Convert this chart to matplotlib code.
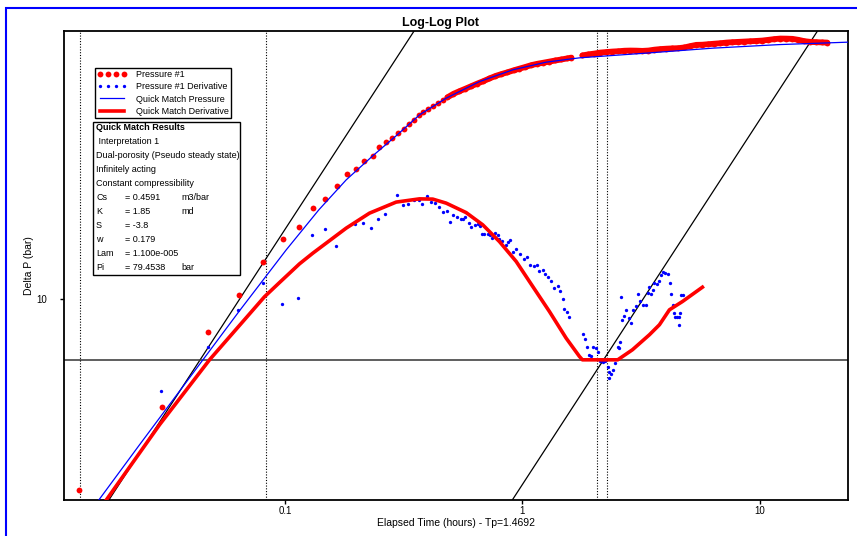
import matplotlib
matplotlib.use("Agg")
import matplotlib.pyplot as plt
from matplotlib.patches import Rectangle
from matplotlib.ticker import NullLocator

plt.rcParams['font.family'] = ['Liberation Sans', 'DejaVu Sans']

# Measured pressure change (bar) vs elapsed time (hours)
press_t = [0.01355, 0.0302, 0.0475, 0.0641, 0.0806, 0.098, 0.1148, 0.131, 0.148,
           0.165, 0.182, 0.1995, 0.216, 0.234, 0.248, 0.265, 0.283, 0.2985, 0.316,
           0.334, 0.351, 0.366, 0.383, 0.401, 0.419, 0.440, 0.462,
           0.483, 0.512, 0.543, 0.575, 0.610, 0.646, 0.685, 0.726, 0.770, 0.816,
           0.865, 0.917, 0.971, 1.030, 1.091, 1.157, 1.226, 1.299, 1.377, 1.459,
           1.547, 1.608,
           1.789, 1.896, 2.010, 2.130, 2.258, 2.393, 2.536, 2.689, 2.850, 3.020,
           3.201, 3.393, 3.596, 3.812, 4.040, 4.281, 4.538, 4.810, 5.098, 5.403,
           5.727, 6.070, 6.434, 6.819, 7.227, 7.660, 8.120, 8.606, 9.120, 9.667,
           10.24, 10.86, 11.51, 12.2, 12.93, 13.71, 14.53, 15.4, 16.32, 17.3,
           18.33, 19.24]
press_p = [2.985, 5.06, 8.09, 10.26, 12.6, 14.57, 15.74, 17.74, 18.8,
           20.4, 22.0, 22.75, 23.9, 24.7, 26.1, 26.9, 27.6, 28.5, 29.2,
           30.1, 30.9, 31.8, 32.6, 33.2, 33.8, 34.5, 35.1,
           35.65, 36.45, 37.07, 37.65, 38.28, 38.9, 39.5, 40.16, 40.8, 41.3,
           41.76, 42.27, 42.73, 43.2, 43.7, 44.07, 44.37, 44.68, 45.0, 45.28,
           45.6, 45.82,
           46.46, 46.76, 47.0, 47.3, 47.45, 47.6, 47.7, 47.85, 47.9, 47.87,
           47.8, 47.9, 48.17, 48.35, 48.47, 48.56, 48.63, 48.85, 49.28, 49.65,
           49.7, 49.86, 50.02, 50.17, 50.37, 50.5, 50.6, 50.7, 50.8, 50.9,
           51.02, 51.25, 51.5, 51.67, 51.64, 51.57, 51.25, 50.82, 50.6, 50.5,
           50.43, 50.37]

# Pressure derivative (bar)
deriv_t = [0.030, 0.0472, 0.0635, 0.0804, 0.0969, 0.1137, 0.1302, 0.1467, 0.1637,
           0.1968, 0.2135, 0.2313, 0.2459, 0.2631, 0.2956, 0.3133, 0.3311, 0.3485,
           0.3660, 0.3793, 0.3981, 0.4139, 0.4303, 0.4472, 0.4618, 0.4801, 0.4961,
           0.5122, 0.5311, 0.5484, 0.5645, 0.5754, 0.5941, 0.6099, 0.6297, 0.6527,
           0.6654, 0.6764, 0.6918, 0.7143, 0.7333, 0.7456, 0.7646, 0.7922, 0.80,
           0.8215, 0.8540, 0.8672, 0.8903, 0.9165, 0.9408, 0.978, 1.020, 1.043,
           1.078, 1.120, 1.153, 1.179, 1.217, 1.246, 1.283, 1.321, 1.364, 1.408,
           1.445, 1.478, 1.503, 1.537, 1.578,
           1.807, 1.837, 1.865, 1.902, 1.947, 1.990, 2.043, 2.075, 2.124, 2.178,
           2.236, 2.287, 2.324, 2.363, 2.324, 2.400, 2.464, 2.519, 2.561, 2.578,
           2.603, 2.630, 2.689, 2.734, 2.803, 2.869, 2.914, 3.011, 3.058, 3.130,
           3.210, 3.318, 3.370, 3.425, 3.483, 3.537, 3.596, 3.677, 3.775, 3.837,
           3.897, 4.000, 4.091, 4.200, 4.241, 4.294, 4.336, 4.408, 4.481, 4.551,
           4.582, 4.627, 4.658, 4.732]
deriv_p = [5.6, 7.40, 9.31, 11.04, 9.65, 10.06, 14.97, 15.52, 13.95,
           16.02, 16.18, 15.68, 16.54, 17.13, 19.31, 18.06, 18.21, 18.64,
           18.64, 18.21, 19.19, 18.41, 18.33, 17.83, 17.28, 17.39, 16.26,
           16.96, 16.78, 16.57, 16.57, 16.71, 16.12, 15.75, 15.92, 16.05,
           15.85, 15.07, 15.07, 15.04, 14.95, 14.69, 15.14, 14.95, 14.57,
           14.41, 14.08, 14.35, 14.45, 13.42, 13.68, 13.28, 12.85, 13.01,
           12.40, 12.31, 12.40, 11.91, 12.01, 11.71, 11.47, 11.2, 10.7, 10.85,
           10.5, 10.0, 9.37, 9.23, 8.89,
           8.0, 7.76, 7.38, 7.03, 6.95, 7.40, 7.31, 7.13, 6.76, 6.72,
           6.75, 6.52, 6.30, 6.23, 6.06, 6.39, 6.66, 7.40, 7.33, 7.62,
           10.11, 8.74, 8.98, 9.33, 8.86, 8.56, 9.29, 9.57, 10.32, 9.89,
           9.63, 9.59, 10.36, 10.76, 10.34, 10.58, 11.04, 10.99, 11.22, 11.63,
           11.86, 11.76, 11.71, 11.04, 10.30, 9.63, 9.17, 8.89, 8.89, 8.89,
           8.49, 9.17, 10.26, 10.26]

# Quick match model pressure
model_t = [0.01644, 0.02439, 0.0396, 0.0643, 0.1012, 0.1388, 0.181, 0.2343, 0.2938,
           0.3684, 0.4773, 0.659, 0.910, 1.258, 1.738, 3.318, 6.327, 12.08, 23.35]
model_p = [2.81, 3.98, 6.075, 9.27, 13.62, 17.53, 21.18, 24.66, 27.97,
           31.92, 35.47, 39.38, 42.41, 44.52, 45.75, 47.13, 48.63, 49.74, 50.5]

# Quick match model derivative
model_dt = [0.01767, 0.02962, 0.04809, 0.08195, 0.0948, 0.1151, 0.131, 0.181, 0.2269,
            0.2938, 0.3684, 0.4191, 0.4773, 0.5793, 0.6805, 0.80, 0.9408, 1.105,
            1.299, 1.528, 1.738, 1.789, 2.519, 2.905, 3.425, 3.775, 4.159, 4.718,
            5.727]
model_dp = [2.81, 4.517, 6.805, 10.13, 11.08, 12.47, 13.34, 15.62, 17.17,
            18.41, 18.79, 18.76, 18.29, 17.23, 15.95, 14.35, 12.66, 10.81,
            9.23, 7.80, 6.95, 6.805, 6.805, 7.25, 7.97, 8.49, 9.33, 9.83,
            10.76]

# Unit slope lines (wellbore storage and late time) and markers
wbs_t = [0.01, 0.5]
wbs_p = [1.55, 77.5]
late_t = [0.5, 30.0]
late_p = [1.55, 93.0]
stab_level = 6.81
vlines_t = [0.0137, 0.0828, 2.07, 2.28]

# Quick match results
results_title = "Quick Match Results"
results_lines = [" Interpretation 1", "Dual-porosity (Pseudo steady state)",
                 "Infinitely acting", "Constant compressibility"]
param_names = ["Cs", "K", "S", "w", "Lam", "Pi"]
param_values = ["= 0.4591", "= 1.85", "= -3.8", "= 0.179", "= 1.100e-005", "= 79.4538"]
param_units = ["m3/bar", "md", "", "", "", "bar"]

fig = plt.figure(figsize=(8.57, 5.36), dpi=100)
ax = fig.add_axes([0.0747, 0.0672, 0.9148, 0.875])

ax.plot(press_t, press_p, 'o', color='#ff0000', ms=4.2, mec='none',
        label='Pressure #1', zorder=2)
# dense recordings merge into a continuous band
for a, b in [(27, 49), (49, len(press_t))]:
    ax.plot(press_t[a:b], press_p[a:b], '-', color='#ff0000', lw=4.2,
            solid_capstyle='round', zorder=2)
ax.plot(deriv_t, deriv_p, 'o', color='#0000ff', ms=2.4, mec='none',
        label='Pressure #1 Derivative', zorder=2)
ax.plot(model_t, model_p, '-', color='#0000ff', lw=0.9,
        label='Quick Match Pressure', zorder=4)
ax.plot(model_dt, model_dp, '-', color='#ff0000', lw=2.6,
        label='Quick Match Derivative', zorder=3)

ax.plot(wbs_t, wbs_p, '-', color='black', lw=0.9, zorder=1)
ax.plot(late_t, late_p, '-', color='black', lw=0.9, zorder=1)
ax.axhline(stab_level, color='#333333', lw=1.1, zorder=1)
for t in vlines_t:
    ax.axvline(t, color='black', lw=0.8, ls=(0, (1, 1.5)), zorder=1)

ax.set_xscale('log')
ax.set_yscale('log')
ax.set_xlim(0.01173, 23.5)
ax.set_ylim(2.81, 54.2)
ax.set_xticks([0.1, 1, 10])
ax.set_xticklabels(['0.1', '1', '10'])
ax.set_yticks([10])
ax.set_yticklabels(['10'])
ax.xaxis.set_minor_locator(NullLocator())
ax.yaxis.set_minor_locator(NullLocator())
ax.tick_params(labelsize=7, length=3, width=1, direction='out')
ax.tick_params(axis='x', pad=1.5)
ax.tick_params(axis='y', pad=9)
for sp in ax.spines.values():
    sp.set_linewidth(1.3)

ax.set_xlabel('Elapsed Time (hours) - Tp=1.4692', fontsize=7.5)
ax.xaxis.set_label_coords(0.5, -0.039)
ax.set_ylabel('Delta P (bar)', fontsize=7.5)
ax.yaxis.set_label_coords(-0.038, 0.5)

fig.text(440 / 857, 1 - 23 / 536, 'Log-Log Plot', ha='center', va='center',
         fontsize=9, fontweight='bold')

leg = ax.legend(loc='upper left', bbox_to_anchor=(0.0395, 0.922), fontsize=6.5,
                numpoints=4, handlelength=3.2, fancybox=False, framealpha=1,
                edgecolor='black', borderpad=0.3, labelspacing=0.35,
                handletextpad=1.0, borderaxespad=0)
leg.get_frame().set_linewidth(1.0)
leg.set_zorder(10)

# Results box
box = Rectangle((0.0366, 0.4797), 0.1883, 0.3269, transform=ax.transAxes,
                facecolor='white', edgecolor='black', lw=1.0, zorder=11)
ax.add_patch(box)
step = 14 / 469
y = 0.7938
ax.text(0.0408, y, results_title, transform=ax.transAxes, fontsize=6.5,
        fontweight='bold', va='center', zorder=12)
for line in results_lines:
    y -= step
    ax.text(0.0408, y, line, transform=ax.transAxes, fontsize=6.5,
            va='center', zorder=12)
for name, val, unit in zip(param_names, param_values, param_units):
    y -= step
    ax.text(0.0408, y, name, transform=ax.transAxes, fontsize=6.5,
            va='center', zorder=12)
    ax.text(0.0778, y, val, transform=ax.transAxes, fontsize=6.5,
            va='center', zorder=12)
    ax.text(0.150, y, unit, transform=ax.transAxes, fontsize=6.5,
            va='center', zorder=12)

# Blue window frame
frame = Rectangle((6 / 857, -0.1), 1.2, 1 - 8 / 536 + 0.1, transform=fig.transFigure,
                  fill=False, edgecolor='#0000ff', lw=1.5)
fig.patches.append(frame)

fig.savefig('out.png', dpi=100)
